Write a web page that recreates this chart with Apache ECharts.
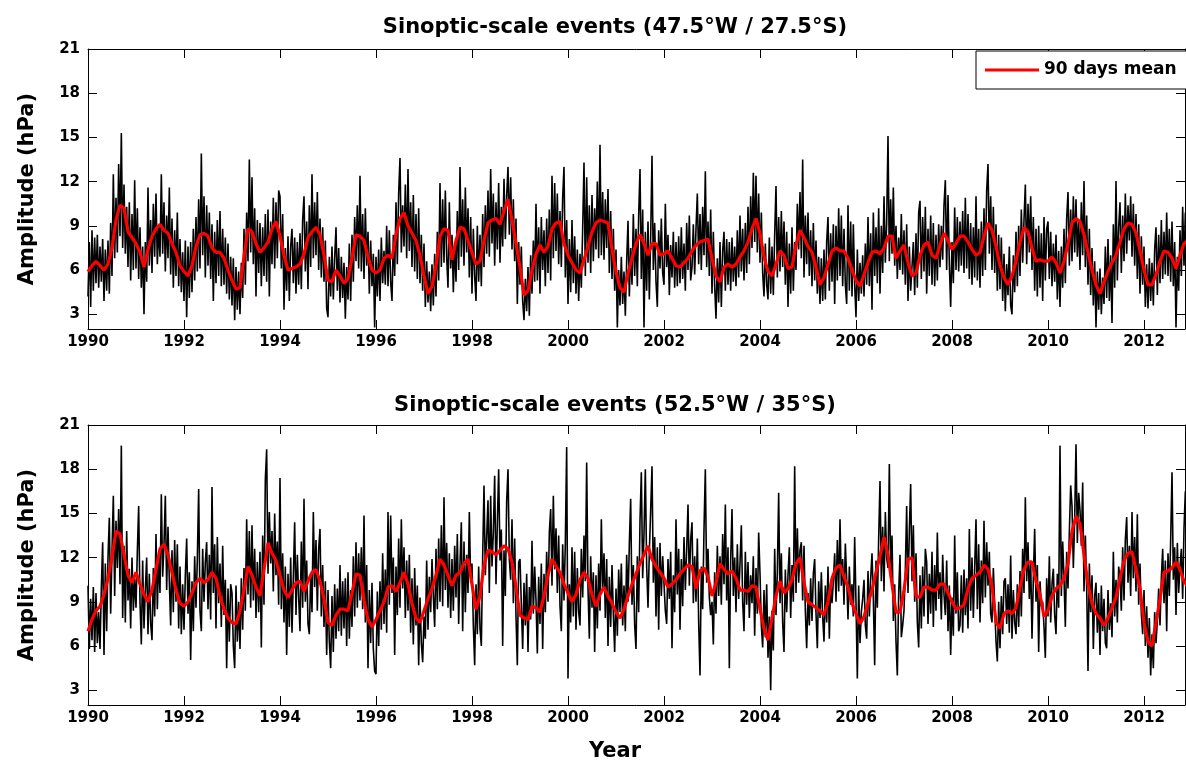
<!DOCTYPE html>
<html>
<head>
<meta charset="utf-8">
<script src="https://cdn.jsdelivr.net/npm/echarts@6/dist/echarts.min.js"></script>
<style>
  html, body { margin: 0; padding: 0; background: #fff; }
  #chart { width: 1186px; height: 763px; }
</style>
</head>
<body>
<div id="chart"></div>
<script>
// Tick values shown on the axes
const yearTicks = [1990, 1992, 1994, 1996, 1998, 2000, 2002, 2004, 2006, 2008, 2010, 2012];
const ampTicks = [3, 6, 9, 12, 15, 18, 21];

// Series start and sampling (10-day amplitudes, monthly points of the 90-day mean)
const startYear = 1990;
const samplesPerYear = 36;
const meanPerYear = 12;

// 47.5°W / 27.5°S — amplitude (hPa), one row per year
const ampNorth = [
  4.2,7.9,3.5, 8.7,4.6,8.2, 5.1,8.4,4.8, 7.6,5.2,8.1, 3.9,7.4,4.6, 8.0,4.4,9.2, 5.6,12.5,6.8, 10.9,7.2,13.2, 8.3,15.3,7.5, 11.8,7.1,10.3, 6.2,10.6,5.3, 9.8,6.0,12.1,
  6.1,10.2,5.4, 8.9,4.8,7.6, 3.0,7.9,5.2, 11.6,6.3,9.4, 5.8,10.5,6.9, 11.2,6.4,9.0, 6.9,12.5,7.1, 10.6,5.9,9.7, 6.8,11.6,5.7, 9.5,4.8,8.7, 5.6,9.9,4.9, 8.1,4.5,7.2,
  3.9,8.0,2.8, 7.6,4.1,7.9, 4.5,8.8,5.3, 9.6,5.9,10.8, 6.1,13.9,7.0, 11.0,5.5,10.4, 6.3,9.9,5.4, 9.1,3.9,8.6, 5.1,9.4,5.6, 10.0,4.9,8.8, 5.0,8.2,4.4, 7.8,4.0,6.9,
  3.6,6.8,2.6, 6.2,3.3,5.9, 3.0,6.5,4.1, 8.8,5.0,9.9, 6.6,13.5,7.2, 12.3,6.4,10.2, 4.2,9.4,5.8, 9.2,4.9,8.9, 5.6,9.8,5.2, 10.1,4.2,9.3, 6.4,10.9,6.1, 10.6,6.8,11.4,
  11.0,6.1,9.8, 3.3,7.5,4.6, 8.3,3.9,7.6, 8.8,5.1,8.2, 4.4,7.9,5.0, 8.5,4.7,9.4, 11.0,5.9,9.3, 4.7,10.4,6.2, 12.5,6.8,10.6, 7.0,11.3,6.0, 9.5,5.5,8.9, 5.2,8.0,3.4,
  2.8,6.9,4.2, 7.6,4.0,6.8, 8.9,4.6,7.5, 3.8,6.9,4.1, 6.5,2.7,6.2, 4.0,7.8,3.9, 8.4,5.2,9.6, 6.6,10.4,6.1, 12.4,5.9,9.8, 5.4,10.2,6.3, 8.6,4.4,8.0, 4.9,7.1,2.1,
  6.9,4.2,7.4, 3.9,8.2,5.1, 7.3,5.0,9.0, 4.9,8.7,5.2, 3.9,8.4,5.6, 10.6,6.4,11.2, 13.6,7.2,10.4, 7.6,11.8,6.8, 12.85,7.3,10.6, 6.2,11.1,5.9, 9.8,5.4,10.2, 5.1,8.4,4.6,
  7.8,3.5,6.6, 3.8,5.9,3.2, 6.4,3.6,7.1, 4.2,8.6,5.3, 11.9,6.2,10.8, 6.5,11.4,6.9, 4.8,10.6,6.1, 8.4,4.5,7.9, 5.2,10.0,6.0, 13.0,6.9,10.8, 6.3,11.6,7.2, 10.2,5.5,9.6,
  4.4,8.8,5.6, 3.9,9.0,5.2, 8.4,4.9,9.8, 6.2,10.4,7.1, 11.4,6.9,12.85, 7.8,11.2,6.3, 10.6,7.4,11.9, 6.5,10.3,7.6, 12.2,8.1,11.0, 13.0,8.4,12.3, 7.4,10.8,6.6, 9.5,3.7,7.9,
  5.0,7.6,3.9, 2.6,5.4,3.2, 6.2,2.9,7.0, 4.4,8.0,5.2, 10.5,5.3,8.9, 4.4,9.6,6.0, 8.7,4.9,9.5, 5.8,10.1,5.3, 12.4,6.8,11.9, 7.3,11.2,6.4, 10.0,6.2,10.9, 13.0,5.5,9.4,
  3.7,8.1,4.5, 9.4,5.1,8.3, 4.4,7.4,3.9, 7.1,4.8,8.8, 13.3,5.6,12.3, 6.5,10.4,5.8, 11.1,6.6,10.2, 7.4,12.0,6.8, 14.5,7.0,11.3, 6.7,10.8,7.5, 11.5,5.8,10.0, 5.4,8.8,4.6,
  7.4,2.1,6.0, 3.6,6.9,3.7, 5.9,2.9,6.6, 9.35,4.2,7.5, 5.0,9.8,5.6, 8.8,4.9,9.7, 12.85,5.4,10.1, 2.1,8.6,4.6, 9.3,4.0,8.2, 13.75,6.0,9.2, 5.2,3.5,8.7, 6.1,9.5,5.8,
  5.0,10.5,6.2, 8.4,4.3,7.7, 5.5,8.6,4.8, 7.9,4.9,8.3, 5.1,8.9,5.4, 7.8,4.6,9.2, 6.0,9.7,5.3, 6.2,9.1,5.7, 8.8,11.2,6.4, 9.8,6.0,10.3, 7.0,12.7,6.2, 9.3,5.6,10.1,
  4.4,8.6,4.9, 2.7,6.8,3.8, 7.9,3.5,7.3, 8.6,4.6,8.1, 5.0,7.9,4.6, 8.2,5.2,7.6, 4.9,8.7,5.5, 9.7,5.9,8.8, 5.3,9.2,5.8, 10.3,6.4,11.0, 7.5,12.6,7.9, 12.4,7.2,11.2,
  6.5,9.9,5.8, 4.2,7.8,5.0, 4.0,8.2,4.4, 7.6,4.3,8.4, 11.7,5.5,9.6, 5.9,10.0,6.2, 9.3,5.0,8.6, 3.5,7.8,4.4, 8.9,4.6,7.9, 6.0,10.5,7.4, 11.3,6.8,13.5, 5.5,9.7,6.4,
  9.9,5.6,8.7, 4.9,9.2,5.3, 8.0,4.4,6.9, 3.7,6.8,3.9, 7.4,4.0,7.9, 9.6,4.6,8.5, 5.2,9.1,3.7, 9.0,5.3,10.2, 5.6,9.7,4.9, 8.8,5.0,3.7, 10.4,4.6,9.3, 4.2,9.1,5.0,
  2.8,7.4,3.9, 6.5,4.4,7.0, 4.2,7.8,5.0, 9.6,4.9,8.5, 3.3,9.9,5.6, 8.9,5.1,10.2, 4.4,9.0,5.8, 11.0,6.5,9.2, 15.1,6.6,10.8, 7.1,11.6,6.3, 9.0,5.4,8.2, 6.0,9.8,5.7,
  8.7,5.0,9.1, 3.9,7.6,4.6, 4.5,7.9,4.3, 8.5,4.8,9.9, 10.7,5.4,9.6, 5.9,10.3,4.4, 8.8,5.6,9.7, 5.0,9.2,4.9, 8.4,5.3,9.1, 6.2,9.0,6.7, 10.4,12.1,6.0, 11.1,6.4,3.5,
  7.9,5.1,10.25, 6.0,9.6,5.9, 9.3,6.3,10.0, 5.8,10.9,6.1, 9.8,5.4,9.2, 5.0,8.9,5.5, 11.0,5.3,8.8, 4.8,9.3,5.6, 10.2,6.0,11.4, 13.2,7.1,11.0, 6.0,10.3,5.8, 9.1,4.6,8.4,
  4.7,8.2,3.9, 7.1,3.2,6.4, 4.3,7.6,3.6, 3.0,7.0,4.5, 8.6,4.9,9.0, 5.6,10.1,6.5, 9.4,11.8,6.4, 10.5,7.2,11.0, 6.0,9.6,4.6, 8.8,4.2,9.0, 4.8,8.5,3.9, 9.6,5.3,8.8,
  9.3,5.4,8.6, 4.9,7.8,5.2, 8.4,4.0,7.3, 3.5,7.6,4.8, 8.8,5.1,9.5, 11.3,6.3,10.1, 6.6,11.0,7.2, 10.8,6.9,9.4, 6.0,10.6,7.0, 12.05,6.2,9.7, 5.0,8.8,4.3, 7.5,3.6,6.6,
  2.1,5.9,3.3, 6.1,3.0,5.5, 3.7,7.6,4.1, 8.1,3.9,7.0, 2.4,9.1,4.8, 12.05,5.3,8.9, 10.6,5.8,9.7, 6.6,11.2,7.1, 10.4,8.0,11.0, 6.9,10.5,6.3, 9.8,5.4,9.1, 4.4,8.3,5.0,
  7.6,3.5,6.4, 3.4,6.8,3.9, 6.5,3.6,7.4, 8.9,4.3,8.4, 5.1,9.4,5.4, 8.6,5.7,9.9, 5.6,8.8,5.2, 9.3,4.9,7.9, 2.1,6.9,4.6, 8.7,5.6,10.3, 6.3,9.9,6.8, 9.5,6.2,10.0
];

// 47.5°W / 27.5°S — 90 days mean (hPa), monthly points, one row per year
const meanNorth = [
  5.9,6.3,6.6,6.3,6.0,6.4,7.5,9.4,10.4,10.2,8.6,8.2,
  7.8,7.2,6.2,7.4,8.3,8.8,9.1,8.7,8.5,7.8,7.2,6.3,
  5.9,5.6,6.3,7.6,8.4,8.5,8.3,7.5,7.2,7.2,6.8,6.0,
  5.3,4.7,4.8,6.9,8.8,8.6,7.8,7.2,7.5,7.9,8.8,9.3,
  8.3,7.0,6.0,6.1,6.2,6.4,7.1,8.2,8.6,8.9,8.4,7.0,
  5.3,5.2,6.0,5.6,5.1,5.4,6.8,8.4,8.3,8.0,6.9,6.0,
  5.8,6.0,6.8,7.0,6.8,8.4,9.5,9.9,9.0,8.5,8.0,7.0,
  5.6,4.4,4.9,6.3,8.3,8.8,8.7,6.7,8.0,8.9,8.8,8.0,
  7.2,6.4,6.6,8.0,9.2,9.4,9.5,9.1,10.0,10.8,9.4,7.8,
  6.2,4.3,4.6,6.0,7.1,7.7,7.2,7.6,8.8,9.2,9.3,7.8,
  7.0,6.5,6.0,5.8,6.7,7.6,8.6,9.2,9.4,9.3,9.2,7.4,
  5.9,4.8,4.5,5.8,6.8,7.8,8.4,7.8,7.0,7.8,7.8,7.0,
  7.1,7.3,6.8,6.3,6.2,6.5,6.8,7.3,7.7,7.9,8.0,8.1,
  6.8,5.6,5.2,6.2,6.4,6.2,6.4,6.9,7.3,7.9,8.8,9.5,
  8.5,6.9,5.9,5.6,6.4,7.3,7.0,6.1,6.2,7.7,8.7,8.2,
  7.6,7.2,6.2,5.0,5.5,6.4,7.3,7.5,7.3,7.3,6.8,6.0,
  5.3,4.9,5.7,6.5,7.2,7.3,7.1,7.5,8.3,8.3,6.8,7.3,
  7.7,6.5,5.6,5.8,7.0,7.7,7.9,7.0,6.8,7.7,8.5,8.0,
  7.4,7.8,8.3,8.3,7.9,7.4,7.0,7.2,8.3,9.2,8.7,7.6,
  6.3,5.5,5.0,5.6,6.6,7.9,8.9,8.6,7.5,6.6,6.7,6.6,
  6.6,6.9,6.5,5.8,6.6,7.8,9.2,9.5,9.3,8.4,7.2,6.0,
  5.0,4.4,5.2,5.9,6.5,7.0,7.9,8.8,9.2,9.1,8.5,7.3,
  6.0,5.0,5.0,5.7,6.6,7.3,7.2,6.8,6.1,7.0,7.8,8.0
];

// 52.5°W / 35°S — amplitude (hPa), one row per year
const ampSouth = [
  10.1,5.8,9.2, 6.4,10.0,5.6, 9.6,6.2,8.3, 5.8,9.9,13.05, 5.4,11.6,7.0, 12.0,14.7,8.2, 12.4,16.2,9.4, 14.5,11.3,15.3, 10.2,19.6,7.9, 12.8,7.6,13.8, 9.1,11.25,7.2, 12.0,8.4,10.6,
  8.6,12.4,15.5, 9.0,6.1,11.8, 7.2,9.8,12.0, 6.8,10.9,7.5, 6.4,11.3,8.0, 13.6,8.5,12.2, 9.6,16.3,10.7, 12.9,16.2,9.8, 14.1,10.4,7.4, 12.5,8.3,13.2, 9.0,12.9,7.2, 11.4,6.8,10.2,
  7.1,10.8,13.3, 8.2,11.0,5.05, 10.4,7.0,12.1, 8.6,11.9,16.65, 8.4,7.0,12.6, 9.0,11.7,13.05, 8.5,12.2,7.8, 16.8,9.6,12.9, 7.2,13.4,8.9, 11.6,7.3,12.8, 8.1,10.5,4.5, 9.9,6.3,10.2,
  9.6,6.0,4.5, 10.1,6.3,9.0, 5.8,10.6,7.1, 11.3,8.4,14.6, 9.5,13.8,8.6, 14.2,9.1,12.6, 7.9,11.7,8.3, 12.4,5.9,13.5, 8.8,17.3,19.35, 10.9,15.1,11.6, 13.8,9.7,15.0, 10.8,13.1,8.8,
  17.4,8.5,12.3, 7.6,11.4,5.4, 10.9,7.3,12.0, 6.9,10.7,14.4, 8.1,12.2,9.3, 7.0,13.1,8.6, 16.0,9.0,11.8, 7.5,6.8,10.9, 8.3,15.1,10.0, 13.2,8.4,12.6, 13.95,8.0,11.5, 7.3,10.4,5.4,
  9.8,6.3,4.5, 9.4,5.6,10.2, 6.5,9.9,7.0, 11.5,6.7,10.4, 7.2,10.6,6.0, 11.0,6.5,9.8, 7.3,12.1,8.0, 13.05,8.6,12.3, 9.1,12.7,8.5, 14.85,7.6,11.5, 4.5,9.8,6.2, 10.3,5.8,4.3,
  4.1,9.7,6.0, 10.4,7.1,12.3, 7.5,11.2,6.9, 15.1,8.8,14.85, 9.6,12.0,5.4, 11.4,8.1,13.3, 8.6,14.6,9.9, 12.7,7.9,11.8, 8.4,12.2,6.9, 10.6,6.1,11.3, 7.4,10.1,4.7, 9.3,6.2,4.9,
  8.0,6.5,11.8, 7.1,10.7,8.3, 11.9,9.4,7.3, 12.6,8.5,13.3, 9.0,14.2,8.7, 16.1,9.8,13.0, 8.6,12.3,7.9, 11.9,8.4,12.8, 9.3,13.6,7.5, 11.6,14.4,7.0, 13.1,8.3,12.2, 9.6,15.1,10.3,
  11.6,7.4,4.7, 10.2,6.8,11.4, 7.2,6.0,12.0, 16.9,10.8,13.4, 15.9,9.6,16.2, 11.4,13.7,17.55, 10.2,14.3,18.0, 11.8,13.9,6.0, 12.5,9.4,15.8, 18.0,11.9,10.5, 14.6,8.9,13.3, 8.0,4.7,11.7,
  11.9,8.8,5.8, 10.3,7.4,10.9, 5.6,10.0,7.8, 13.15,8.2,11.4, 9.1,5.5,10.7, 7.5,11.6,5.8, 10.9,8.3,12.4, 9.0,13.7,15.3, 10.1,16.2,11.2, 14.0,9.6,13.5, 8.7,7.0,12.9, 9.1,13.0,19.5,
  3.8,10.2,7.6, 12.7,8.0,12.4, 7.1,11.3,8.3, 7.4,12.6,9.3, 13.5,10.4,18.45, 9.9,6.5,12.1, 8.6,11.0,5.6, 10.8,7.2,11.6, 8.4,14.6,9.8, 12.3,7.9,11.9, 6.0,10.7,7.3, 11.5,8.2,5.6,
  9.9,6.7,11.2, 8.3,11.6,7.4, 10.1,7.0,12.2, 9.0,12.9,16.0, 8.8,11.5,7.4, 5.8,12.1,8.3, 14.5,17.8,10.6, 13.6,18.0,11.4, 8.6,12.4,15.2, 18.2,10.3,13.4, 8.0,12.7,7.1, 13.0,9.4,12.1,
  12.2,8.4,7.5, 11.9,9.2,12.4, 5.85,10.8,8.3, 14.6,9.5,12.6, 7.1,11.9,8.7, 13.4,9.8,12.5, 15.6,10.1,13.2, 14.4,8.9,12.1, 9.0,13.3,7.6, 4.0,11.4,8.5, 13.9,18.0,10.3, 12.6,9.3,8.1,
  9.0,6.1,11.0, 8.2,12.8,9.4, 12.1,8.8,13.6, 10.2,15.6,9.1, 12.7,4.5,11.8, 15.3,9.4,12.0, 8.3,12.9,9.2, 11.6,14.2,9.0, 7.0,12.4,8.8, 11.7,7.9,10.8, 8.9,12.1,6.7, 11.3,8.2,13.7,
  10.9,7.4,5.9, 9.8,6.6,10.2, 5.2,8.0,3.0, 8.4,5.7,12.6, 8.1,11.0,16.4, 8.9,12.3,7.6, 5.6,11.2,8.3, 10.8,12.7,7.9, 11.5,9.0,18.2, 9.6,14.0,10.3, 12.5,13.05,9.1, 12.8,8.4,5.85,
  9.6,7.4,10.6, 7.7,10.9,11.9, 8.2,5.85,10.4, 7.9,11.0,8.0, 6.3,10.1,7.6, 11.4,6.5,10.3, 8.9,10.4,12.3, 9.0,13.2,9.7, 14.6,10.1,11.9, 8.8,12.95,10.6, 7.8,11.4,8.8, 10.2,8.0,13.4,
  8.9,3.8,10.1, 6.2,8.3,9.2, 10.5,7.4,6.5, 11.1,8.0,10.6, 12.3,9.2,4.7, 11.8,8.6,13.3, 17.2,10.4,14.1, 9.7,15.1,12.0, 11.3,18.35,10.6, 13.5,7.7,10.2, 6.3,4.0,9.6, 12.2,6.6,7.4,
  8.4,11.2,15.5, 9.6,13.8,17.0, 10.4,14.2,9.0, 12.3,7.6,5.9, 10.8,7.2,11.4, 8.0,12.6,11.7, 7.5,10.9,8.2, 12.4,7.3,11.5, 8.4,13.7,9.2, 11.0,7.8,12.2, 9.5,8.1,11.8, 7.0,10.1,5.4,
  9.3,6.7,13.5, 8.2,11.0,7.0, 7.4,10.8,6.9, 11.2,8.1,10.6, 7.2,13.95,8.4, 12.0,7.9,11.3, 14.6,8.5,12.9, 7.6,11.8,8.9, 14.5,9.3,13.05, 10.1,12.4,8.2, 7.6,11.3,8.8, 6.3,4.95,9.0,
  5.85,9.4,6.8, 10.4,10.6,7.5, 10.2,6.9,12.15, 6.5,9.8,7.6, 6.8,10.2,7.3, 11.1,8.0,12.6, 9.6,16.1,10.4, 13.05,9.2,11.8, 6.5,10.6,13.95, 9.0,11.5,5.6, 10.4,8.7,9.0, 7.3,5.2,10.6,
  8.0,12.1,7.6, 10.2,11.25,8.1, 6.8,10.9,8.6, 19.6,9.4,13.1, 10.6,7.3,12.4, 9.9,13.7,16.9, 15.5,11.3,14.6, 19.7,13.0,16.4, 15.2,12.8,17.1, 9.7,13.5,10.0, 4.3,11.6,8.3, 10.8,5.8,9.4,
  10.3,6.9,9.6, 5.4,10.1,7.0, 9.2,6.2,5.85, 9.8,7.1,8.9, 6.6,12.4,8.0, 10.5,7.6,11.4, 10.6,8.4,12.7, 9.1,13.2,14.75, 10.3,12.8,9.4, 15.1,10.6,13.4, 9.7,14.95,8.8, 11.6,8.2,6.8,
  9.8,6.0,8.7, 5.2,7.9,4.0, 6.8,4.5,8.3, 6.2,7.7,9.9, 7.4,10.6,12.6, 8.9,11.8,7.0, 12.3,9.4,13.2, 17.8,10.5,12.7, 8.1,13.0,9.6, 11.4,12.6,9.2, 14.0,16.5,10.1, 12.9,9.0,11.8
];

// 52.5°W / 35°S — 90 days mean (hPa), monthly points, one row per year
const meanSouth = [
  7.0,7.8,8.4,8.7,9.5,10.6,12.0,13.8,13.6,12.2,10.8,10.3,
  11.0,10.2,9.5,9.0,9.8,11.2,12.6,12.9,12.2,11.0,9.8,8.9,
  8.7,9.0,9.6,10.3,10.6,10.3,10.5,11.0,10.6,9.4,8.5,7.9,
  7.6,7.5,8.4,9.8,11.4,10.8,10.0,9.4,11.2,13.0,12.3,11.8,
  10.8,9.8,9.3,9.8,10.3,10.4,9.7,10.4,11.0,11.2,10.4,9.2,
  7.6,7.4,8.1,8.5,8.5,8.4,9.6,10.9,10.8,9.1,7.8,7.3,
  7.8,8.4,9.0,10.0,10.1,9.7,10.3,11.0,10.2,8.9,7.9,7.6,
  8.4,9.2,9.9,10.8,11.9,11.5,10.8,10.1,10.8,11.0,11.6,11.9,
  10.2,8.5,9.4,11.5,12.5,12.4,12.2,12.5,12.8,12.6,11.7,10.0,
  8.1,7.9,7.8,8.7,8.6,8.3,9.4,10.8,11.9,11.4,11.0,10.2,
  9.6,9.0,9.5,10.5,11.0,10.6,9.5,8.7,9.5,10.0,9.4,8.9,
  8.3,7.9,8.5,9.4,10.2,10.9,11.6,12.2,12.8,11.9,11.4,11.0,
  10.6,10.0,10.2,10.5,10.9,11.2,11.5,11.4,9.9,11.1,11.3,10.7,
  9.4,10.3,11.6,11.2,10.9,11.1,10.6,9.8,9.8,9.7,10.1,10.0,
  8.5,7.2,6.4,7.9,9.4,10.4,9.6,9.9,10.5,11.6,12.0,10.3,
  9.0,8.8,8.6,8.4,8.1,9.0,10.6,11.3,11.5,10.7,10.0,8.9,
  8.2,7.5,8.0,8.9,9.8,11.0,12.1,13.4,12.2,10.2,8.3,8.3,
  9.8,11.9,12.0,9.4,9.3,10.0,10.0,9.8,9.8,10.2,10.2,9.6,
  9.0,8.5,8.6,8.8,9.9,10.6,10.8,11.0,11.5,11.2,10.1,7.6,
  7.2,8.2,8.4,8.2,8.6,10.0,11.2,11.7,11.7,10.4,9.5,8.0,
  8.4,9.4,9.9,10.1,10.6,11.6,13.8,14.8,14.3,12.2,10.2,8.9,
  8.2,7.9,7.4,7.9,8.6,9.3,10.6,11.8,12.3,12.4,11.2,9.9,
  7.6,6.3,6.0,7.6,9.2,11.0,11.1,11.3,11.7,11.2,10.4,10.0
];

// Pair each value with its decimal-year position
function timed(values, perYear) {
  return values.map((v, i) => [startYear + i / perYear, v]);
}

const FONT = 'DejaVu Sans';
const X_MIN = 1990, X_MAX = 2012.854;
const Y_MIN = 2, Y_MAX = 21;

const tickStyle = { show: true, inside: true, length: 9, lineStyle: { color: '#000', width: 1 } };
const lineStyleAxis = { show: true, onZero: false, lineStyle: { color: '#000', width: 1 } };
const labelStyle = { color: '#000', fontFamily: FONT, fontWeight: 'bold', fontSize: 15 };

function xAxisPair(gridIndex) {
  return [
    {
      type: 'value', gridIndex, position: 'bottom', min: X_MIN, max: X_MAX,
      axisLine: lineStyleAxis,
      axisTick: Object.assign({ customValues: yearTicks }, tickStyle),
      axisLabel: Object.assign({ customValues: yearTicks, margin: 6, formatter: v => String(v) }, labelStyle),
      splitLine: { show: false }
    },
    {
      type: 'value', gridIndex, position: 'top', min: X_MIN, max: X_MAX,
      axisLine: lineStyleAxis,
      axisTick: Object.assign({ customValues: yearTicks }, tickStyle),
      axisLabel: { show: false },
      splitLine: { show: false }
    }
  ];
}

function yAxisPair(gridIndex) {
  return [
    {
      type: 'value', gridIndex, position: 'left', min: Y_MIN, max: Y_MAX,
      name: 'Amplitude (hPa)', nameLocation: 'middle', nameGap: 50,
      nameTextStyle: { color: '#000', fontFamily: FONT, fontWeight: 'bold', fontSize: 21 },
      axisLine: lineStyleAxis,
      axisTick: Object.assign({ customValues: ampTicks }, tickStyle),
      axisLabel: Object.assign({ customValues: ampTicks, margin: 8, formatter: v => String(v) }, labelStyle),
      splitLine: { show: false }
    },
    {
      type: 'value', gridIndex, position: 'right', min: Y_MIN, max: Y_MAX,
      axisLine: lineStyleAxis,
      axisTick: Object.assign({ customValues: ampTicks }, tickStyle),
      axisLabel: { show: false },
      splitLine: { show: false }
    }
  ];
}

function amplitudeSeries(values, axisIndex) {
  return {
    type: 'line', xAxisIndex: axisIndex, yAxisIndex: axisIndex,
    data: timed(values, samplesPerYear),
    symbol: 'none', silent: true, z: 2,
    lineStyle: { color: '#000', width: 1.6 },
    itemStyle: { color: '#000' }
  };
}

function meanSeries(values, axisIndex) {
  return {
    name: '90 days mean', type: 'line', xAxisIndex: axisIndex, yAxisIndex: axisIndex,
    data: timed(values, meanPerYear),
    symbol: 'none', silent: true, z: 3,
    lineStyle: { color: '#ff0000', width: 3.2 },
    itemStyle: { color: '#ff0000' }
  };
}

const titleText = { color: '#000', fontFamily: FONT, fontWeight: 'bold', fontSize: 21 };

const option = {
  animation: false,
  backgroundColor: '#fff',
  title: [
    { text: 'Sinoptic-scale events (47.5°W / 27.5°S)', left: 615, top: 17, textAlign: 'center', padding: 0, textStyle: titleText },
    { text: 'Sinoptic-scale events (52.5°W / 35°S)', left: 615, top: 395, textAlign: 'center', padding: 0, textStyle: titleText },
    { text: 'Year', left: 615, top: 741, textAlign: 'center', padding: 0, textStyle: titleText }
  ],
  legend: {
    data: [{ name: '90 days mean', icon: 'rect' }],
    left: 976, top: 51,
    orient: 'horizontal',
    backgroundColor: '#fff',
    borderColor: '#000', borderWidth: 1,
    padding: [10, 40, 10, 9],
    itemWidth: 54, itemHeight: 3,
    selectedMode: false,
    textStyle: { color: '#000', fontFamily: FONT, fontWeight: 'bold', fontSize: 17, lineHeight: 18 }
  },
  grid: [
    { left: 88, top: 49, width: 1097, height: 280, containLabel: false },
    { left: 88, top: 425, width: 1097, height: 280, containLabel: false }
  ],
  xAxis: [].concat(xAxisPair(0), xAxisPair(1)),
  yAxis: [].concat(yAxisPair(0), yAxisPair(1)),
  series: [
    amplitudeSeries(ampNorth, 0),
    meanSeries(meanNorth, 0),
    amplitudeSeries(ampSouth, 2),
    meanSeries(meanSouth, 2)
  ]
};

const chart = echarts.init(document.getElementById('chart'), null, { renderer: 'canvas' });
chart.setOption(option);
</script>
</body>
</html>
